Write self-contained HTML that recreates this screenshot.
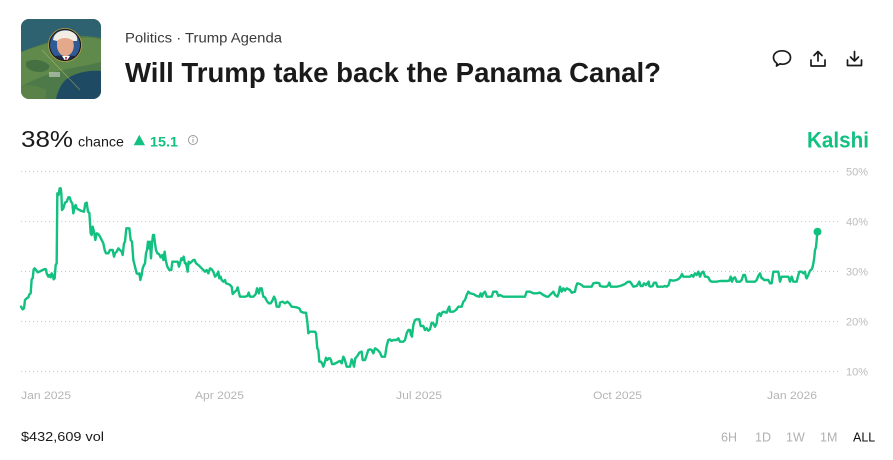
<!DOCTYPE html>
<html><head><meta charset="utf-8"><style>
html,body{margin:0;padding:0;background:#fff;}
svg{display:block;}
text{font-family:"Liberation Sans",Arial,sans-serif;}
</style></head><body>
<svg width="893" height="460" viewBox="0 0 893 460" xmlns="http://www.w3.org/2000/svg">
<defs>
<clipPath id="thumb"><rect x="21" y="19" width="80" height="80" rx="8"/></clipPath>
<clipPath id="face"><circle cx="65" cy="45" r="15"/></clipPath>
</defs>
<!-- thumbnail -->
<g clip-path="url(#thumb)">
<rect x="21" y="19" width="80" height="80" fill="#4e7a4a"/>
<path d="M21 19 L101 19 L101 38 C90 36 80 35 70 37 C55 40 40 44 21 52 Z" fill="#2f6270"/>
<path d="M21 52 C40 45 60 40 80 38 C90 37 96 38 101 40 L101 62 C85 66 70 68 55 72 C42 76 30 82 21 86 Z" fill="#5f8a4c"/>
<path d="M26 62 C34 58 42 60 48 64 C52 68 46 72 40 72 C34 72 28 70 26 66 Z" fill="#3f6a40" opacity="0.8"/>
<path d="M68 78 C78 72 90 70 101 71 L101 99 L56 99 C58 90 62 82 68 78 Z" fill="#1e4a63"/>
<path d="M21 86 C30 84 38 86 46 90 L46 99 L21 99 Z" fill="#5a8248"/>
<line x1="42" y1="50" x2="80" y2="90" stroke="#d6c46a" stroke-width="0.6" opacity="0.6"/>
<rect x="49" y="72" width="11" height="5" fill="#e8e8e8" opacity="0.5"/>
</g>
<circle cx="65" cy="45" r="16.5" fill="#1a1a1a" stroke="#b9a24a" stroke-width="0.8"/>
<g clip-path="url(#face)">
<rect x="48" y="28" width="34" height="34" fill="#2f5a96"/>
<path d="M53 40 C54 32 62 29 70 31 C76 33 78 37 77 41 L73 41 C69 38 62 38 57 41 Z" fill="#f2eee4"/>
<path d="M57 41 C61 37 69 37 73 41 C75 47 73 54 67 56 C61 57 58 52 57 47 Z" fill="#e3a98a"/>
<path d="M50 62 C52 56 58 55 62 56 L70 56 C75 55 80 58 82 62 Z" fill="#1c2a45"/>
<path d="M62 56 L66 62 L70 56 Z" fill="#ffffff"/>
<path d="M65 57 L66 62 L67 57 Z" fill="#b3262e"/>
</g>

<!-- breadcrumb -->
<text x="125" y="42.5" font-size="13.5" fill="#3a3a3a" textLength="157" lengthAdjust="spacingAndGlyphs">Politics  ·  Trump Agenda</text>
<!-- title -->
<text x="125" y="82" font-size="27.5" font-weight="700" fill="#1a1a1a" textLength="536" lengthAdjust="spacingAndGlyphs">Will Trump take back the Panama Canal?</text>

<!-- icons -->
<g fill="none" stroke="#1a1a1a" stroke-width="1.7" stroke-linecap="round" stroke-linejoin="round">
<path d="M777 63.5 L776.5 66 L780 63.8 C781 64.1 781.8 64.2 782.5 64.2 C787.2 64.2 790.5 61.3 790.5 57.5 C790.5 53.7 787.2 50.8 782 50.8 C776.8 50.8 773.5 53.7 773.5 57.5 C773.5 60 775 62 777 63.5 Z"/>
<path d="M818 51.5 L818 61 M814 55.5 L818 51.5 L822 55.5 M811 60 L811 66 L825 66 L825 60"/>
<path d="M854.5 51.5 L854.5 61 M850.5 57 L854.5 61 L858.5 57 M847.5 60 L847.5 65.5 L861.5 65.5 L861.5 60"/>
</g>

<!-- price row -->
<text x="21" y="147" font-size="23" font-weight="500" fill="#1a1a1a" textLength="52" lengthAdjust="spacingAndGlyphs">38%</text>
<text x="78" y="146.5" font-size="14" fill="#1a1a1a" textLength="46" lengthAdjust="spacingAndGlyphs">chance</text>
<path d="M133.7 145.3 L139.3 134.7 L145 145.3 Z" fill="#12c07f"/>
<text x="150" y="146.5" font-size="14" font-weight="700" fill="#12c07f" textLength="28" lengthAdjust="spacingAndGlyphs">15.1</text>
<circle cx="193" cy="140" r="4.5" fill="none" stroke="#9a9a9a" stroke-width="1"/>
<line x1="193" y1="139" x2="193" y2="142.5" stroke="#9a9a9a" stroke-width="1"/>
<circle cx="193" cy="137.4" r="0.6" fill="#9a9a9a"/>
<text x="807" y="147.5" font-size="22" font-weight="700" fill="#12c07f" textLength="62" lengthAdjust="spacingAndGlyphs">Kalshi</text>

<!-- grid -->
<g stroke="#c9c9c9" stroke-width="1" stroke-dasharray="1 3">
<line x1="21" y1="171.5" x2="841" y2="171.5"/>
<line x1="21" y1="221.5" x2="841" y2="221.5"/>
<line x1="21" y1="271.5" x2="841" y2="271.5"/>
<line x1="21" y1="321.5" x2="841" y2="321.5"/>
<line x1="21" y1="371.5" x2="841" y2="371.5"/>
</g>
<g font-size="11" fill="#bcbcbc">
<text x="846" y="175.5">50%</text>
<text x="846" y="225.5">40%</text>
<text x="846" y="275.5">30%</text>
<text x="846" y="325.5">20%</text>
<text x="846" y="375.5">10%</text>
</g>
<g font-size="11" fill="#b5b5b5">
<text x="21" y="399" textLength="50" lengthAdjust="spacingAndGlyphs">Jan 2025</text>
<text x="195" y="399" textLength="49" lengthAdjust="spacingAndGlyphs">Apr 2025</text>
<text x="396" y="399" textLength="46" lengthAdjust="spacingAndGlyphs">Jul 2025</text>
<text x="593" y="399" textLength="49" lengthAdjust="spacingAndGlyphs">Oct 2025</text>
<text x="767" y="399" textLength="50" lengthAdjust="spacingAndGlyphs">Jan 2026</text>
</g>

<!-- series -->
<g fill="none" stroke="#12c07f" stroke-width="2.4" stroke-linejoin="round" stroke-linecap="round">
<polyline transform="translate(0,160) scale(0.33333)" vector-effect="non-scaling-stroke" points="63,440 68,448 72,445 75,420 80,415 85,412 88,403 92,400 95,358 98,355 101,328 104,325 108,330 113,337 118,335 122,333 128,330 135,327 138,328 140,340 145,350 148,345 152,352 155,340 158,345 161,358 164,355 167,315 170,310 172,100 176,105 179,85 182,85 184,100 186,150 190,145 195,128 200,125 205,112 209,112 213,125 217,130 220,160 224,140 227,135 230,145 238,150 245,153 252,155 256,130 260,128 264,155 268,158 272,220 275,225 278,200 282,215 286,240 290,220 295,222 300,230 305,240 310,250 314,270 318,280 325,280 330,270 338,270 342,290 345,280 350,275 355,265 360,270 365,275 368,285 372,250 375,245 379,205 388,205 392,240 396,245 400,300 405,320 410,340 415,342 418,340 421,360 425,345 428,325 432,315 435,310 438,280 441,270 444,245 447,265 450,245 453,295 456,250 459,225 462,225 465,250 468,270 472,280 477,282 482,292 487,285 490,300 494,275 497,300 502,320 508,330 514,330 517,305 522,305 528,305 533,305 537,320 540,310 544,295 548,300 551,290 555,310 558,310 563,335 566,305 570,310 575,305 580,300 584,300 588,310 595,315 600,320 605,325 610,330 615,335 620,330 625,340 630,325 635,328 640,335 645,350 650,345 655,335 658,355 662,350 665,360 670,365 675,360 678,370 685,372 690,375 695,380 698,402 705,395 710,390 713,382 716,395 720,410 725,410 735,410 742,408 746,398 750,410 760,410 765,405 768,400 771,385 774,392 777,400 780,385 785,385 790,410 795,412 800,422 806,430 812,430 818,420 822,410 826,418 830,440 838,440 840,428 848,425 855,430 862,425 868,430 875,440 890,442 898,445 903,455 910,458 918,458 922,485 925,520 930,515 945,515 948,520 952,565 955,570 958,605 963,605 966,610 970,620 975,605 978,593 982,600 986,595 990,595 993,600 996,612 1002,612 1010,608 1015,605 1020,603 1025,610 1030,590 1034,598 1040,620 1050,620 1055,598 1058,605 1062,620 1066,595 1072,588 1078,578 1085,575 1088,600 1095,600 1100,585 1105,570 1110,568 1115,570 1120,580 1125,565 1130,568 1135,572 1140,578 1145,590 1155,590 1160,558 1165,540 1170,538 1175,543 1180,540 1190,540 1195,535 1200,545 1210,545 1215,540 1220,520 1225,510 1230,510 1233,525 1236,530 1240,495 1245,480 1250,478 1258,478 1262,498 1270,498 1275,510 1280,505 1285,512 1290,508 1295,488 1300,490 1305,500 1310,490 1313,465 1318,460 1322,468 1326,458 1330,455 1340,458 1345,445 1348,440"/>
<polyline transform="translate(440,160) scale(0.33333)" vector-effect="non-scaling-stroke" points="28,440 30,455 40,455 48,450 55,440 65,440 70,425 75,420 80,405 85,395 90,400 100,402 110,408 118,410 122,400 126,410 130,400 135,395 140,410 145,410 155,410 160,395 170,395 175,408 180,405 190,410 200,410 220,410 240,410 255,410 260,395 270,395 280,400 290,400 300,398 310,405 320,410 325,410 330,405 335,400 340,395 345,405 352,410 356,400 360,380 365,395 370,385 375,392 380,385 390,390 395,398 405,395 408,380 412,370 420,372 425,375 430,380 440,380 455,380 460,370 470,368 478,370 480,378 490,380 500,380 505,375 508,368 512,380 520,380 530,380 540,378 548,375 555,372 562,366 570,365 575,372 580,380 590,378 595,370 598,365 602,378 608,378 612,370 618,375 622,370 626,365 628,378 632,380 638,378 642,368 648,368 652,380 660,380 670,380 675,378 680,380 686,375 690,360 700,362 710,360 718,355 722,350 726,342 730,350 740,350 750,350 755,345 760,350 765,340 770,345 775,335 780,350 785,338 790,335 795,350 800,350 805,352 810,362 815,365 820,365 830,365 840,363 860,363 868,362 872,350 876,365 880,355 885,352 890,365 900,365 905,360 910,345 915,345 920,365 930,365 945,365 950,360 955,348 960,340 965,355 968,355 972,360 985,360 990,370 995,370 1000,335 1010,335 1015,335 1020,365 1025,350 1030,350 1040,350 1045,350 1050,365 1055,350 1060,365 1070,365 1075,345 1078,335 1085,335 1090,340 1095,335 1098,352 1100,355 1105,345 1110,332 1115,328 1118,320 1122,300 1125,270 1128,262 1130,240 1132,215"/>
</g>
<circle cx="817.5" cy="231.7" r="4" fill="#12c07f"/>

<!-- footer -->
<text x="21" y="441" font-size="13" fill="#1a1a1a" textLength="83" lengthAdjust="spacingAndGlyphs">$432,609 vol</text>
<g font-size="12.5" fill="#b0b0b0">
<text x="721" y="441.5">6H</text>
<text x="755" y="441.5">1D</text>
<text x="786" y="441.5">1W</text>
<text x="820" y="441.5">1M</text>
</g>
<text x="853" y="441.5" font-size="12.5" fill="#111">ALL</text>
</svg>
</body></html>
